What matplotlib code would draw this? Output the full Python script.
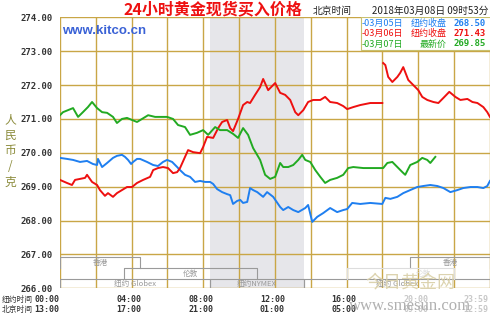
import numpy as np
import matplotlib.pyplot as plt
from matplotlib.patches import Rectangle

plt.rcParams['font.family'] = ['Noto Sans CJK SC', 'DejaVu Sans']

# hour of NY day (0..24) and price (CNY / gram)
blue_h = [0, 0.39, 0.73, 1.12, 1.51, 1.84, 2.07, 2.12, 2.35, 2.63, 2.96, 3.18, 3.46, 3.63, 3.80, 3.97,
          4.08, 4.30, 4.47, 4.86, 5.20, 5.47, 5.75, 5.98, 6.26, 6.54, 6.70, 6.98, 7.26, 7.54, 7.82, 8.10,
          8.38, 8.55, 8.77, 9.05, 9.33, 9.50, 9.66, 9.89, 10.06, 10.22, 10.45, 10.61, 10.78, 11.01, 11.34,
          11.56, 11.90, 12.29, 12.46, 12.74, 13.02, 13.30, 13.69, 13.85, 14.08, 14.36, 14.69, 15.08, 15.47,
          15.81, 16.03, 16.31, 16.76, 17.32, 17.99, 18.16, 18.44, 18.83, 19.16, 19.55, 19.94, 20.28, 20.67,
          21.06, 21.40, 21.79, 22.18, 22.51, 22.91, 23.30, 23.63, 23.85, 24.0]
blue_v = [269.85, 269.82, 269.79, 269.73, 269.76, 269.67, 269.64, 269.82, 269.58, 269.70, 269.85, 269.91,
          269.94, 269.88, 269.79, 269.67, 269.73, 269.82, 269.82, 269.73, 269.64, 269.61, 269.73, 269.79,
          269.73, 269.58, 269.49, 269.35, 269.29, 269.14, 269.17, 269.14, 269.14, 269.08, 268.93, 268.84,
          268.78, 268.75, 268.49, 268.58, 268.61, 268.52, 268.55, 268.96, 268.90, 268.84, 268.70, 268.84,
          268.70, 268.40, 268.31, 268.40, 268.31, 268.25, 268.37, 268.46, 267.96, 268.11, 268.22, 268.37,
          268.25, 268.31, 268.34, 268.52, 268.49, 268.52, 268.49, 268.67, 268.64, 268.70, 268.81, 268.90,
          268.99, 269.02, 269.05, 269.02, 268.96, 268.84, 268.90, 268.96, 268.99, 268.99, 268.96, 269.02,
          269.17]

red_h = [0, 0.39, 0.67, 0.84, 1.12, 1.40, 1.51, 1.79, 2.07, 2.23, 2.51, 2.68, 2.96, 3.18, 3.46, 3.74,
         4.02, 4.30, 4.64, 5.03, 5.20, 5.47, 5.75, 6.03, 6.31, 6.54, 6.70, 6.98, 7.15, 7.43, 7.82, 7.99,
         8.21, 8.55, 8.83, 9.05, 9.33, 9.50, 9.66, 9.94, 10.22, 10.45, 10.61, 10.89, 11.17, 11.34, 11.62,
         12.01, 12.29, 12.57, 12.85, 13.13, 13.30, 13.58, 13.85, 14.13, 14.53, 14.80, 15.08, 15.47, 15.81,
         16.03, 16.37, 16.76, 17.32, 17.99, 18.02, 18.04, 18.16, 18.32, 18.55, 18.83, 18.99, 19.16, 19.44,
         19.72, 20.00, 20.22, 20.50, 20.84, 21.12, 21.40, 21.73, 22.07, 22.35, 22.74, 23.02, 23.30, 23.63,
         23.85, 24.0]
red_v = [269.20, 269.11, 269.05, 269.20, 269.23, 269.26, 269.35, 269.14, 269.05, 268.90, 268.73, 268.81,
         268.70, 268.81, 268.90, 268.99, 268.99, 269.11, 269.20, 269.29, 269.49, 269.55, 269.58, 269.55,
         269.40, 269.43, 269.55, 269.88, 270.08, 270.02, 269.99, 270.17, 270.47, 270.44, 270.73, 270.91,
         270.97, 270.73, 270.64, 271.00, 271.41, 271.50, 271.47, 271.71, 271.94, 272.18, 271.85, 272.06,
         271.77, 271.71, 271.56, 271.20, 271.11, 271.26, 271.50, 271.56, 271.56, 271.65, 271.50, 271.47,
         271.38, 271.29, 271.35, 271.41, 271.47, 271.47, np.nan, 272.65, 272.59, 272.24, 272.09, 272.24,
         272.36, 272.53, 272.15, 272.00, 271.85, 271.65, 271.56, 271.50, 271.47, 271.62, 271.80, 271.65,
         271.56, 271.59, 271.50, 271.47, 271.35, 271.20, 271.06]

green_h = [0, 0.17, 0.45, 0.73, 1.01, 1.28, 1.56, 1.79, 2.07, 2.35, 2.63, 2.96, 3.18, 3.46, 3.74, 4.02,
           4.30, 4.58, 4.92, 5.31, 5.59, 5.98, 6.31, 6.59, 6.98, 7.26, 7.65, 7.99, 8.27, 8.66, 8.94, 9.33,
           9.66, 9.94, 10.22, 10.50, 10.78, 11.17, 11.45, 11.73, 12.01, 12.29, 12.46, 12.74, 13.02, 13.30,
           13.52, 13.69, 13.97, 14.25, 14.53, 14.80, 15.08, 15.47, 15.81, 16.09, 16.37, 16.93, 17.49, 18.04,
           18.27, 18.55, 18.83, 19.11, 19.27, 19.55, 19.94, 20.22, 20.50, 20.67, 20.95]
green_v = [271.11, 271.20, 271.26, 271.32, 271.06, 271.20, 271.35, 271.50, 271.32, 271.20, 271.18, 271.06,
           270.88, 271.00, 271.03, 270.97, 270.91, 271.00, 271.11, 271.06, 271.06, 271.06, 271.00, 270.82,
           270.76, 270.53, 270.59, 270.67, 270.53, 270.76, 270.67, 270.67, 270.56, 270.44, 270.73, 270.53,
           270.14, 269.79, 269.35, 269.23, 269.29, 269.70, 269.58, 269.58, 269.64, 269.79, 269.94, 269.79,
           269.73, 269.49, 269.29, 269.11, 269.20, 269.26, 269.35, 269.55, 269.58, 269.55, 269.55, 269.55,
           269.70, 269.73, 269.58, 269.43, 269.35, 269.64, 269.73, 269.85, 269.79, 269.70, 269.88]

# trading sessions drawn at the bottom band: name, start, end, row
session_names = ['香港', '伦敦', '纽约 Globex', '纽约NYMEX', '纽约 Globex', '香港', '伦敦']
session_start = [0, 3.6, 0, 8.4, 13.6, 19.55, 16.0]
session_end = [4.47, 11.0, 8.4, 13.6, 24.0, 24.0, 22.0]
session_row = [0, 1, 2, 2, 2, 0, 1]

ny_labels = ['00:00', '04:00', '08:00', '12:00', '16:00', '20:00', '23:59']
bj_labels = ['13:00', '17:00', '21:00', '01:00', '05:00', '09:00', '12:59']
label_hours = [0, 4, 8, 12, 16, 20, 24]

legend_dates = ['-03月05日', '-03月06日', '-03月07日']
legend_kinds = ['纽约收盘', '纽约收盘', '最新价']
legend_vals = ['268.50', '271.43', '269.85']

BLUE, RED, GREEN = '#1f7ff0', '#ee1010', '#22aa22'
GRID = '#c9a646'

fig = plt.figure(figsize=(4.99, 3.17), dpi=100)
fig.patch.set_facecolor('white')
ax = fig.add_axes([0.1202, 0.0905, 0.8617, 0.8549])
ax.set_xlim(0, 24)
ax.set_ylim(266, 274)

# shaded NYMEX hours
ax.axvspan(8.4, 13.6, color='#e6e6ea', zorder=0, lw=0)

for h in range(0, 25, 2):
    ax.axvline(h, color=GRID, lw=1.0, zorder=1)
for v in range(266, 275):
    ax.axhline(v, color=GRID, lw=1.0, zorder=1)
for s in ax.spines.values():
    s.set_visible(False)

ax.plot(blue_h, blue_v, color=BLUE, lw=1.4, zorder=3)
ax.plot(red_h, red_v, color=RED, lw=1.4, zorder=3)
ax.plot(green_h, green_v, color=GREEN, lw=1.4, zorder=3)

# session brackets
row_top = [266.93, 266.6, 266.28]
row_bot = [266.6, 266.28, 266.0]
for i, (name, a, b, r) in enumerate(zip(session_names, session_start, session_end, session_row)):
    top, bot = row_top[r], row_bot[r]
    faint = i == 6
    ax.plot([a, a, b, b], [bot, top, top, bot], color='#dddddd' if faint else '#9a9a9a',
            lw=0.8, zorder=2)
    ax.text((a + b) / 2 + (1.3 if faint else 0), (top + bot) / 2 - 0.02, name, fontsize=5.5,
            color='#dddddd' if faint else '#999999', ha='center', va='center', zorder=2)

ax.set_yticks(range(266, 275))
ax.set_yticklabels([f'{v}.00' for v in range(266, 275)], fontfamily='DejaVu Sans Mono',
                   fontsize=6.5, fontweight='bold', color='#333333')
ax.tick_params(axis='y', length=0, pad=5)
ax.set_xticks([])

# bottom time labels
tr = ax.get_xaxis_transform()
for i, (h, a, b) in enumerate(zip(label_hours, ny_labels, bj_labels)):
    if i == 0:
        xh, ha = -0.05, 'right'
    elif i == len(label_hours) - 1:
        xh, ha = 23.9, 'right'
    else:
        xh, ha = h - 0.15, 'center'
    c = '#c8c8c8' if i >= 5 else '#333333'
    ax.text(xh, -0.043, a, transform=tr, ha=ha, va='center', fontsize=6,
            fontfamily='DejaVu Sans Mono', fontweight='bold', color=c)
    ax.text(xh, -0.08, b, transform=tr, ha=ha, va='center', fontsize=6,
            fontfamily='DejaVu Sans Mono', fontweight='bold', color=c)
fig.text(2 / 499, 1 - 300 / 317, '纽约时间', fontsize=5.6, color='#333333', va='center')
fig.text(2 / 499, 1 - 310 / 317, '北京时间', fontsize=5.6, color='#333333', va='center')

# titles and header texts
fig.text(213 / 499, 1 - 9 / 317, '24小时黄金现货买入价格', fontsize=11.5, fontweight='bold',
         color='#ee1111', ha='center', va='center')
fig.text(313 / 499, 1 - 11 / 317, '北京时间', fontsize=7, color='#222222', va='center')
fig.text(488 / 499, 1 - 11 / 317, '2018年03月08日 09时53分', fontsize=7, color='#222222',
         va='center', ha='right')
fig.text(62 / 499, 1 - 31 / 317, 'www.kitco.cn', fontsize=9.5, color='#3a62d6', va='center',
         fontfamily='Liberation Sans', fontweight='bold')

# y label stacked
fig.text(10 / 499, 1 - 151 / 317, '人\n民\n币\n/\n克', fontsize=8.5, color='#8c8c3c',
         ha='center', va='center', linespacing=1.25)

# legend box
ax.add_patch(Rectangle((361 / 499, 1 - 50 / 317), 130 / 499, 33 / 317, transform=fig.transFigure,
                       facecolor='white', edgecolor='#c8c070', lw=0.8, zorder=5))
for i, (d, k, v, c) in enumerate(zip(legend_dates, legend_kinds, legend_vals, [BLUE, RED, GREEN])):
    y = 1 - (23 + 10.5 * i) / 317
    fig.text(362 / 499, y, d, fontsize=6.5, color=c, va='center', zorder=6)
    fig.text(447 / 499, y, k, fontsize=6.5, color=c, va='center', ha='right', zorder=6)
    fig.text(486 / 499, y, v, fontsize=6.5, color=c, va='center', ha='right', zorder=6,
             fontfamily='DejaVu Sans Mono', fontweight='bold')

# watermark
fig.text(410 / 499, 1 - 283 / 317, '今日黄金网', fontsize=13, color='#d9cfa6', ha='center',
         va='center', alpha=0.9)
fig.text(410 / 499, 1 - 306 / 317, 'www.smesun.com', fontsize=12, color='#a8a8a8',
         ha='center', va='center', fontfamily='Liberation Serif', alpha=0.9)

fig.savefig('out.png', dpi=100)
